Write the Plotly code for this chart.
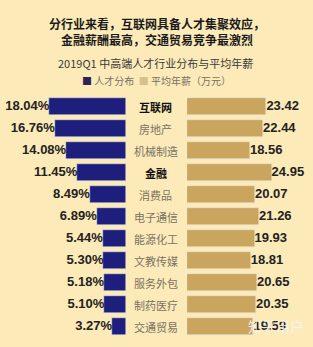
import plotly.graph_objects as go

categories = ["互联网", "房地产", "机械制造", "金融", "消费品", "电子通信",
              "能源化工", "文教传媒", "服务外包", "制药医疗", "交通贸易"]
talent_share = [18.04, 16.76, 14.08, 11.45, 8.49, 6.89, 5.44, 5.30, 5.18, 5.10, 3.27]
avg_salary = [23.42, 22.44, 18.56, 24.95, 20.07, 21.26, 19.93, 18.81, 20.65, 20.35, 19.59]
highlight = ["互联网", "金融"]

title_lines = ["分行业来看，互联网具备人才集聚效应，", "金融薪酬最高，交通贸易竞争最激烈"]
subtitle = "2019Q1 中高端人才行业分布与平均年薪"
legend_names = ["人才分布", "平均年薪（万元）"]

W, H = 313, 347
BG = "#FCEAB8"
NAVY = "#1E1E7C"
GOLD = "#C9A55E"
FONT = "Noto Sans CJK SC"
NUMFONT = "Liberation Sans"

idx = list(range(len(categories)))

fig = go.Figure()
fig.add_trace(go.Bar(x=talent_share, y=idx, orientation="h", marker_color=NAVY,
                     width=0.77, xaxis="x", yaxis="y", showlegend=False, hoverinfo="skip"))
fig.add_trace(go.Scatter(x=talent_share, y=idx, mode="text",
                         text=[f"<b>{v:.2f}%</b>" for v in talent_share],
                         textposition="middle left",
                         textfont=dict(family=NUMFONT, size=13, color="#222222"),
                         xaxis="x", yaxis="y", showlegend=False, hoverinfo="skip",
                         cliponaxis=False))
fig.add_trace(go.Bar(x=avg_salary, y=idx, orientation="h", marker_color=GOLD,
                     width=0.77, xaxis="x2", yaxis="y", showlegend=False, hoverinfo="skip"))
fig.add_trace(go.Scatter(x=avg_salary, y=idx, mode="text",
                         text=[f"<b>{v:.2f}</b>" for v in avg_salary],
                         textposition="middle right",
                         textfont=dict(family=NUMFONT, size=13, color="#222222"),
                         xaxis="x2", yaxis="y", showlegend=False, hoverinfo="skip",
                         cliponaxis=False))

annotations = []
for i, c in enumerate(categories):
    if c in highlight:
        txt, col = f"<b>{c}</b>", "#111111"
    else:
        txt, col = c, "#7a7264"
    annotations.append(dict(x=155.5 / W, y=i, xref="paper", yref="y", text=txt,
                            showarrow=False, font=dict(family=FONT, size=11, color=col),
                            xanchor="center", yanchor="middle"))

annotations.append(dict(x=0.5, y=1 - 32 / H, xref="paper", yref="paper",
                        text="<b>" + "<br>".join(title_lines) + "</b>",
                        showarrow=False, align="center",
                        font=dict(family=FONT, size=12, color="#1a1a1a"),
                        xanchor="center", yanchor="middle"))
annotations.append(dict(x=0.497, y=1 - 63 / H, xref="paper", yref="paper",
                        text=subtitle, showarrow=False,
                        font=dict(family=FONT, size=11, color="#3a3a3a"),
                        xanchor="center", yanchor="middle"))
annotations.append(dict(x=0.5, y=1 - 80.5 / H, xref="paper", yref="paper",
                        text=(f'<span style="color:#2E2356">■</span> {legend_names[0]}  '
                              f'<span style="color:#D5C190">■</span> {legend_names[1]}'),
                        showarrow=False,
                        font=dict(family=FONT, size=10, color="#777066"),
                        xanchor="center", yanchor="middle"))
annotations.append(dict(x=276 / W, y=1 - 326 / H, xref="paper", yref="paper",
                        text="知乎用户", showarrow=False,
                        font=dict(family=FONT, size=14, color="rgba(245,245,245,0.85)"),
                        xanchor="center", yanchor="middle"))

row0, pitch = 106.7, 22.0
yr = [(H - row0) / pitch, -row0 / pitch]

fig.update_layout(
    width=W, height=H,
    margin=dict(l=0, r=0, t=0, b=0),
    paper_bgcolor=BG, plot_bgcolor=BG,
    bargap=0,
    xaxis=dict(domain=[0, 126 / W], range=[126 / 4.25, 0], visible=False, fixedrange=True),
    xaxis2=dict(domain=[187 / W, 1], range=[0, 126 / 3.39], visible=False, fixedrange=True),
    yaxis=dict(domain=[0, 1], range=yr, visible=False, fixedrange=True),
    annotations=annotations,
)

fig.write_html("out.html")
